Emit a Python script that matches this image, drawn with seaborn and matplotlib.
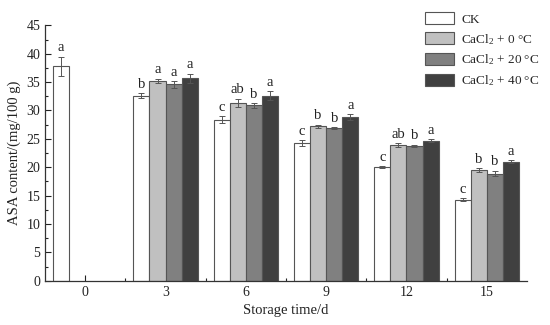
import matplotlib
matplotlib.use('Agg')
import numpy as np
import pandas as pd
import seaborn as sns
import matplotlib.pyplot as plt
from matplotlib.ticker import MultipleLocator

# data
days = ['0', '3', '6', '9', '12', '15']
groups = ['CK', 'CaCl$_2$ + 0 °C', 'CaCl$_2$ + 20 °C', 'CaCl$_2$ + 40 °C']

ck_mean = [37.8, 32.6, 28.4, 24.3, 20.0, 14.3]
ck_err = [1.7, 0.4, 0.6, 0.5, 0.2, 0.2]
ck_sig = ['a', 'b', 'c', 'c', 'c', 'c']

c0_mean = [35.2, 31.4, 27.2, 23.9, 19.5]
c0_err = [0.4, 0.7, 0.3, 0.3, 0.4]
c0_sig = ['a', 'ab', 'b', 'ab', 'b']

c20_mean = [34.6, 30.9, 26.9, 23.8, 18.9]
c20_err = [0.6, 0.4, 0.2, 0.2, 0.5]
c20_sig = ['a', 'b', 'b', 'b', 'b']

c40_mean = [35.7, 32.6, 28.8, 24.7, 21.0]
c40_err = [0.8, 0.8, 0.5, 0.2, 0.3]
c40_sig = ['a', 'a', 'a', 'a', 'a']

colors = ['#ffffff', '#c0c0c0', '#808080', '#404040']

rows = []
for d, m, e, s in zip(days, ck_mean, ck_err, ck_sig):
    rows.append((d, groups[0], m, e, s))
for g, means, errs, sigs in [(groups[1], c0_mean, c0_err, c0_sig),
                             (groups[2], c20_mean, c20_err, c20_sig),
                             (groups[3], c40_mean, c40_err, c40_sig)]:
    for d, m, e, s in zip(days[1:], means, errs, sigs):
        rows.append((d, g, m, e, s))
df = pd.DataFrame(rows, columns=['day', 'group', 'mean', 'err', 'sig'])

sns.set_style('ticks')
plt.rcParams['font.family'] = ['Liberation Serif', 'DejaVu Serif']
plt.rcParams['mathtext.fontset'] = 'custom'
plt.rcParams['mathtext.rm'] = 'Liberation Serif'
plt.rcParams['mathtext.it'] = 'Liberation Serif:italic'

fig = plt.figure(figsize=(5.5, 3.25), dpi=100)
ax = fig.add_axes([0.082, 0.136, 0.876, 0.786])

sns.barplot(data=df, x='day', y='mean', hue='group', order=days,
            hue_order=groups, palette=colors, errorbar=None, width=0.8,
            edgecolor='#555555', linewidth=0.8, ax=ax, legend=False)

for cont, g in zip(ax.containers, groups):
    sub = df[df['group'] == g]
    for bar, (_, r) in zip(cont, sub.iterrows()):
        xc = bar.get_x() + bar.get_width() / 2
        ax.errorbar(xc, r['mean'], yerr=r['err'], fmt='none',
                    ecolor='#555555', elinewidth=0.7, capsize=2.5, capthick=0.7)
        ax.text(xc, r['mean'] + r['err'] + 0.4, r['sig'], ha='center',
                va='bottom', fontsize=10.5, color='#222222')

ax.set_ylim(0, 45)
ax.set_xlim(-0.5, 5.5)
ax.yaxis.set_major_locator(MultipleLocator(5))
ax.yaxis.set_minor_locator(MultipleLocator(2.5))
ax.set_xticks(np.arange(0.5, 5, 1), minor=True)
ax.tick_params(axis='both', which='both', direction='in', labelsize=10,
               colors='#222222')
ax.tick_params(which='major', length=4, width=0.8)
ax.tick_params(which='minor', length=2, width=0.8)
sns.despine(ax=ax)
for sp in ['left', 'bottom']:
    ax.spines[sp].set_linewidth(0.9)
    ax.spines[sp].set_color('#333333')

ax.set_xlabel('Storage time/d', fontsize=10.5, color='#222222')
ax.set_ylabel('ASA content/(mg/100 g)', fontsize=10.5, color='#222222')

handles = [plt.Rectangle((0, 0), 1, 1, facecolor=c, edgecolor='#555555',
                         linewidth=0.8) for c in colors]
fig.legend(handles, groups, loc='upper left', bbox_to_anchor=(0.773, 0.962),
           frameon=False, fontsize=9.5, handlelength=2.2, handleheight=1.0,
           labelspacing=0.45, handletextpad=0.55, borderaxespad=0,
           borderpad=0)

fig.savefig('out.png', dpi=100)
